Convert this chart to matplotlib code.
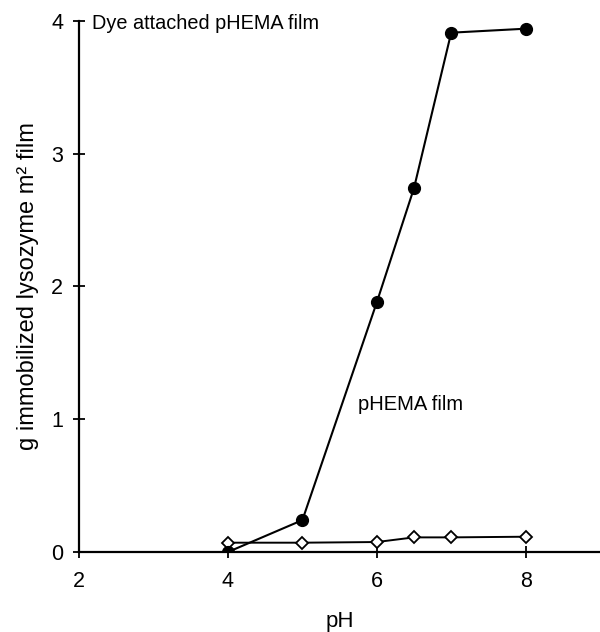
import matplotlib
matplotlib.use("Agg")
import matplotlib.pyplot as plt

# data
ph = [4, 5, 6, 6.5, 7, 8]
dye_film = [0.0, 0.24, 1.88, 2.74, 3.91, 3.94]
plain_film = [0.07, 0.07, 0.075, 0.11, 0.11, 0.115]

x_ticks = [2, 4, 6, 8]
y_ticks = [0, 1, 2, 3, 4]

plt.rcParams["font.family"] = ["Liberation Sans", "DejaVu Sans"]

fig = plt.figure(figsize=(6.0, 6.32), dpi=100)
ax = fig.add_axes([0.132, 0.1266, 0.868, 0.8406])

ax.plot(ph, plain_film, color="black", lw=1.4, marker="D", ms=6.5,
        mfc="white", mec="black", mew=1.3, zorder=3)
ax.plot(ph, dye_film, color="black", lw=1.5, marker="o", ms=8.5,
        mfc="black", mec="black", zorder=4)

ax.set_xlim(2, 9)
ax.set_ylim(0, 4)
ax.set_xticks(x_ticks)
ax.set_yticks(y_ticks)

for side in ["top", "right"]:
    ax.spines[side].set_visible(False)
for side in ["left", "bottom"]:
    ax.spines[side].set_linewidth(1.6)

ax.tick_params(direction="inout", length=9, width=1.3, labelsize=15.5)
ax.tick_params(axis="x", pad=9)
ax.tick_params(axis="y", pad=7)

ax.set_xlabel("pH", fontsize=16, labelpad=14)
ax.set_ylabel("g immobilized lysozyme m² film", fontsize=17, labelpad=9)

ax.text(2.17, 3.98, "Dye attached pHEMA film", fontsize=14.3, va="center", ha="left")
ax.text(5.745, 1.107, "pHEMA film", fontsize=14.5, va="center", ha="left")

for lbl in ax.get_xticklabels() + ax.get_yticklabels():
    lbl.set_clip_on(False)

plt.savefig("out.png", dpi=100)
plt.close()
